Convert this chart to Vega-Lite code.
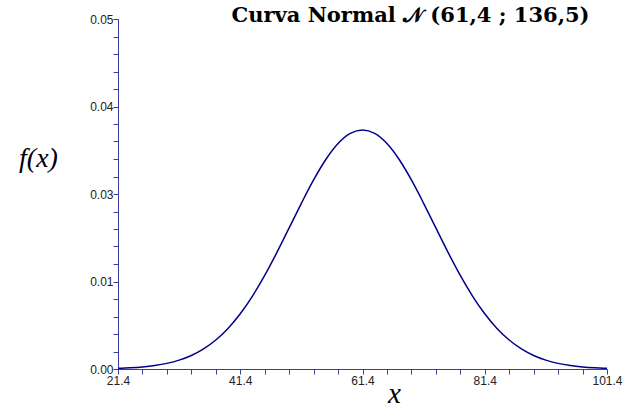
{
  "$schema": "https://vega.github.io/schema/vega-lite/v6.json",
  "width": 489,
  "height": 350,
  "autosize": {"type": "none"},
  "padding": {"left": 118, "top": 19, "right": 26, "bottom": 38},
  "background": "white",
  "config": {"view": {"stroke": null}},
  "title": {
    "text": "Curva Normal 𝒩 (61,4 ; 136,5)",
    "font": "DejaVu Serif",
    "fontSize": 21,
    "fontWeight": "bold",
    "color": "black",
    "anchor": "middle",
    "frame": "group",
    "dx": 48,
    "dy": 13,
    "offset": 0
  },
  "data": {
    "values": [
      {"x": 21.4, "y": 0.0000972},
      {"x": 23.4, "y": 0.000172},
      {"x": 25.4, "y": 0.000296},
      {"x": 27.4, "y": 0.000495},
      {"x": 29.4, "y": 0.000802},
      {"x": 31.4, "y": 0.001264},
      {"x": 33.4, "y": 0.001933},
      {"x": 35.4, "y": 0.002870},
      {"x": 37.4, "y": 0.004141},
      {"x": 39.4, "y": 0.005800},
      {"x": 41.4, "y": 0.007889},
      {"x": 43.4, "y": 0.010421},
      {"x": 45.4, "y": 0.013368},
      {"x": 47.4, "y": 0.016654},
      {"x": 49.4, "y": 0.020150},
      {"x": 51.4, "y": 0.023673},
      {"x": 53.4, "y": 0.027011},
      {"x": 55.4, "y": 0.029927},
      {"x": 57.4, "y": 0.032202},
      {"x": 59.4, "y": 0.033650},
      {"x": 61.4, "y": 0.034146},
      {"x": 63.4, "y": 0.033650},
      {"x": 65.4, "y": 0.032202},
      {"x": 67.4, "y": 0.029927},
      {"x": 69.4, "y": 0.027011},
      {"x": 71.4, "y": 0.023673},
      {"x": 73.4, "y": 0.020150},
      {"x": 75.4, "y": 0.016654},
      {"x": 77.4, "y": 0.013368},
      {"x": 79.4, "y": 0.010421},
      {"x": 81.4, "y": 0.007889},
      {"x": 83.4, "y": 0.005800},
      {"x": 85.4, "y": 0.004141},
      {"x": 87.4, "y": 0.002870},
      {"x": 89.4, "y": 0.001933},
      {"x": 91.4, "y": 0.001264},
      {"x": 93.4, "y": 0.000802},
      {"x": 95.4, "y": 0.000495},
      {"x": 97.4, "y": 0.000296},
      {"x": 99.4, "y": 0.000172},
      {"x": 101.4, "y": 0.0000972}
    ]
  },
  "mark": {"type": "line", "color": "#00008b", "strokeWidth": 1.5, "interpolate": "monotone"},
  "encoding": {
    "x": {
      "field": "x",
      "type": "quantitative",
      "scale": {"domain": [21.4, 101.4], "nice": false, "zero": false},
      "axis": {
        "values": [21.4, 25.4, 29.4, 33.4, 37.4, 41.4, 45.4, 49.4, 53.4, 57.4, 61.4, 65.4, 69.4, 73.4, 77.4, 81.4, 85.4, 89.4, 93.4, 97.4, 101.4],
        "labelExpr": "abs((datum.value-21.4)/20 - round((datum.value-21.4)/20)) < 1e-6 ? format(datum.value, '.1f') : ''",
        "labelOverlap": false,
        "labelBound": false,
        "labelFlush": false,
        "grid": false,
        "domainColor": "#3a3aa0",
        "tickColor": "#3a3aa0",
        "tickSize": 5,
        "labelFont": "Liberation Sans",
        "labelFontSize": 12,
        "labelColor": "#222222",
        "labelPadding": 1,
        "title": "x",
        "titleFont": "Liberation Serif",
        "titleFontStyle": "italic",
        "titleFontWeight": "normal",
        "titleFontSize": 29,
        "titleColor": "black",
        "titleX": 276,
        "titleY": 33,
        "titleAlign": "center",
        "titleBaseline": "alphabetic"
      }
    },
    "y": {
      "field": "y",
      "type": "quantitative",
      "scale": {"domain": [0, 0.05], "nice": false, "zero": true},
      "axis": {
        "values": [0, 0.0025, 0.005, 0.0075, 0.01, 0.0125, 0.015, 0.0175, 0.02, 0.0225, 0.025, 0.0275, 0.03, 0.0325, 0.035, 0.0375, 0.04, 0.0425, 0.045, 0.0475, 0.05],
        "labelExpr": "abs(datum.value) < 1e-9 ? '0.00' : abs(datum.value-0.0125) < 1e-9 ? '0.01' : abs(datum.value-0.025) < 1e-9 ? '0.03' : abs(datum.value-0.0375) < 1e-9 ? '0.04' : abs(datum.value-0.05) < 1e-9 ? '0.05' : ''",
        "labelOverlap": false,
        "labelBound": false,
        "labelFlush": false,
        "grid": false,
        "domainColor": "#3a3aa0",
        "tickColor": "#3a3aa0",
        "tickSize": 5,
        "labelFont": "Liberation Sans",
        "labelFontSize": 12,
        "labelColor": "#222222",
        "labelPadding": 0,
        "title": "f(x)",
        "titleFont": "Liberation Serif",
        "titleFontStyle": "italic",
        "titleFontWeight": "normal",
        "titleFontSize": 28,
        "titleColor": "black",
        "titleAngle": 0,
        "titleX": -80,
        "titleY": 147,
        "titleAlign": "center",
        "titleBaseline": "alphabetic"
      }
    }
  }
}
